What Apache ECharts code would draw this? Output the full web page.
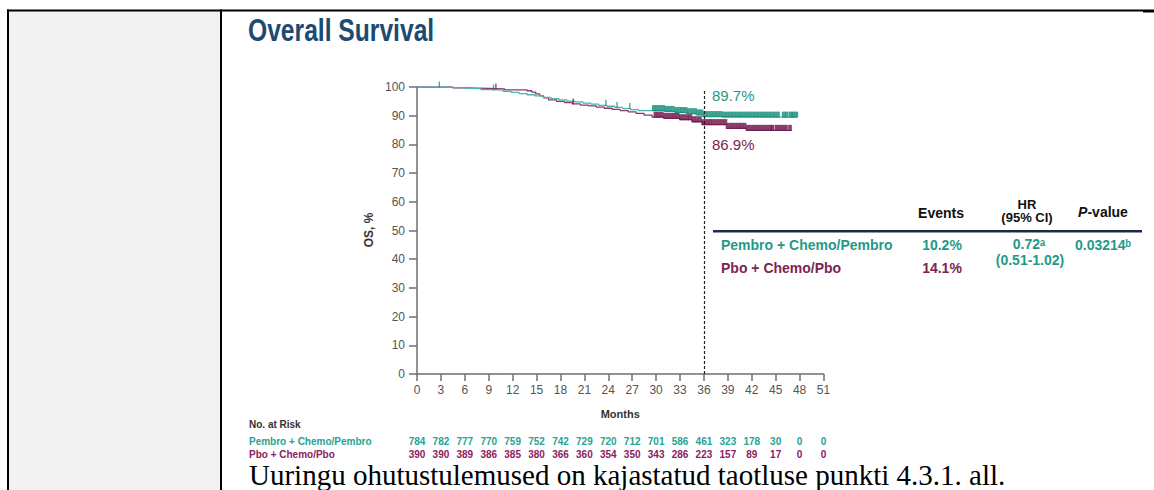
<!DOCTYPE html>
<html><head><meta charset="utf-8">
<script src="https://cdn.jsdelivr.net/npm/echarts@6/dist/echarts.min.js"></script>
<style>
html,body{margin:0;padding:0;background:#fff;}
#c{width:1154px;height:490px;}
</style></head><body><div id="c"></div>
<script>
// ---------------- data ----------------
const monthTicks = [0,3,6,9,12,15,18,21,24,27,30,33,36,39,42,45,48,51];
const riskPembro = [784,782,777,770,759,752,742,729,720,712,701,586,461,323,178,30,0,0];
const riskPbo    = [390,390,389,386,385,380,366,360,354,350,343,286,223,157,89,17,0,0];

// Kaplan-Meier steps [month, OS %]
const kmPembro = [[0,100],[3.3,99.8],[5.0,99.6],[6.5,99.4],[8.0,99.1],[9.5,98.9],[10.8,98.5],[11.8,98.1],[12.8,97.7],[13.8,97.3],[14.8,96.9],[15.8,96.4],[16.8,95.9],[17.8,95.5],[18.8,95.1],[19.8,94.8],[20.8,94.4],[21.8,94.0],[22.8,93.6],[23.8,93.3],[24.8,92.9],[25.8,92.5],[26.8,92.1],[27.8,91.8],[31.0,91.5],[32.5,91.1],[33.8,90.7],[35.0,90.3],[35.8,89.7],[38.5,89.5],[47.7,89.5]];
const kmPbo = [[0,100],[4.5,99.7],[6.0,99.5],[9.0,99.3],[11.0,99.0],[13.8,98.7],[14.4,98.2],[14.9,97.6],[15.4,96.9],[15.9,96.2],[16.5,95.5],[17.5,95.0],[18.5,94.6],[19.5,94.1],[20.5,93.7],[21.5,93.4],[22.5,93.0],[23.5,92.6],[24.5,92.2],[25.5,91.8],[26.5,91.3],[27.5,90.8],[28.5,90.2],[29.5,89.5],[31.0,89.1],[33.0,88.6],[34.5,87.9],[35.8,86.9],[38.8,85.6],[41.3,84.9],[47.0,84.9]];

// censoring times (months)
const censorPembro = [2.8,9.6,23.7,25.1,26.7,
  29.7,30.1,30.5,30.9,31.3,31.7,32.1,32.5,32.9,33.3,33.7,34.1,34.5,34.9,35.3,35.7,36.1,36.5,36.9,37.3,37.7,38.1,38.5,38.9,39.3,39.7,40.1,40.5,40.9,41.3,41.7,42.1,42.5,42.9,43.3,43.7,44.1,44.5,44.9,45.3,46.0,46.4,46.9,47.2,47.6];
const censorPbo = [9.9,19.6,
  29.9,30.3,30.7,31.1,31.5,31.9,32.3,32.7,33.1,33.5,33.9,34.3,34.7,35.1,35.5,35.9,36.3,36.7,37.1,37.5,37.9,38.3,38.7,39.1,39.5,39.9,40.3,40.7,41.1,41.5,41.9,42.3,42.7,43.1,43.5,43.9,44.3,44.6,45.1,45.5,45.9,46.3,46.8];

const landmarkMonth = 36;
const landmarkPembro = 89.7;
const landmarkPbo = 86.9;

const armNames = ['Pembro + Chemo/Pembro','Pbo + Chemo/Pbo'];
const events = ['10.2%','14.1%'];
const hrText = '0.72\u1d43';
const ciText = '(0.51-1.02)';
const pText = '0.03214\u1d47';

// ---------------- style ----------------
const TEAL_LINE = '#4bb5aa', TEAL_BAND = '#128c76', TEAL_TXT = '#1f9a88';
const PUR_LINE = '#8a3a6b', PUR_BAND = '#6b1247', PUR_TXT = '#7d2450';
const SANS = "'Liberation Sans', Arial, Helvetica, sans-serif";
const NARROW = "'Liberation Sans Narrow','Arial Narrow','Liberation Sans',Arial,sans-serif";

function stepValue(km, t){ let v = km[0][1]; for (const p of km){ if (p[0] <= t) v = p[1]; } return v; }
const censorPembroPts = censorPembro.map(t => [t, stepValue(kmPembro, t)]);
const censorPboPts = censorPbo.map(t => [t, stepValue(kmPbo, t)]);
const censorSize = (v) => v[0] < 29 ? [1.3, 6] : [3.6, 6];

const chart = echarts.init(document.getElementById('c'), null, {renderer:'svg'});
const axisCol = '#6f6f6f';
function riskAxis(arr, offset, color){
  return {type:'value', gridIndex:0, position:'bottom', offset:offset, min:0, max:51, interval:3,
    axisLine:{show:false}, axisTick:{show:false}, splitLine:{show:false},
    axisLabel:{margin:2, fontSize:10, fontWeight:'bold', fontFamily:NARROW, color:color,
      formatter:(v)=> { const i = monthTicks.indexOf(v); return i>=0 ? String(arr[i]) : ''; }}};
}

const option = {
  animation:false,
  grid:{left:417, top:87, width:406.5, height:287, containLabel:false},
  xAxis:[
    {type:'value', min:0, max:51, interval:3,
     axisLine:{lineStyle:{color:axisCol, width:1.5}},
     axisTick:{length:7, lineStyle:{color:axisCol, width:1.5}},
     axisLabel:{margin:10, fontSize:12, color:'#555', fontFamily:SANS},
     splitLine:{show:false},
     name:'Months', nameLocation:'middle', nameGap:34,
     nameTextStyle:{fontSize:11, fontWeight:'bold', color:'#333', fontFamily:SANS}},
    riskAxis(riskPembro, 60, '#26a393'),
    riskAxis(riskPbo, 73, '#8c2161')
  ],
  yAxis:{type:'value', min:0, max:100, interval:10,
     axisLine:{show:true, lineStyle:{color:axisCol, width:1.5}},
     axisTick:{show:true, length:8, lineStyle:{color:axisCol, width:1.5}},
     axisLabel:{margin:12, fontSize:12, color:'#555', fontFamily:SANS},
     splitLine:{show:false}},
  series:[
    {type:'line', data:kmPbo, step:'end', symbol:'none', lineStyle:{color:PUR_LINE, width:1.3}, z:2},
    {type:'line', data:kmPembro, step:'end', symbol:'none', lineStyle:{color:TEAL_LINE, width:1.3}, z:2,
     markLine:{silent:true, symbol:'none', label:{show:false},
       lineStyle:{color:'#222', type:[3,2], width:1.2},
       data:[[{coord:[landmarkMonth,0]},{coord:[landmarkMonth,99]}]]}},
    {type:'scatter', data:censorPboPts, symbol:'rect', symbolSize:censorSize, symbolOffset:[0,-2.5],
     itemStyle:{color:PUR_BAND}, z:3},
    {type:'scatter', data:censorPembroPts, symbol:'rect', symbolSize:censorSize, symbolOffset:[0,-2.5],
     itemStyle:{color:TEAL_BAND}, z:3}
  ]
};
chart.setOption(option);

const p1 = chart.convertToPixel({gridIndex:0}, [landmarkMonth, landmarkPembro]);
const p2 = chart.convertToPixel({gridIndex:0}, [landmarkMonth, landmarkPbo]);

function txt(x, y, text, font, fill, align, extra){
  return Object.assign({type:'text', x:x, y:y, silent:true,
    style:{text:text, font:font, fill:fill, align:align||'left', verticalAlign:'middle',
      textAlign:align||'left', textVerticalAlign:'middle'}}, extra||{});
}
const tb = "bold 14px " + SANS;
const graphics = [
  {type:'rect', shape:{x:9, y:11, width:211, height:479}, style:{fill:'#f2f2f2'}, silent:true},
  {type:'rect', shape:{x:7, y:9.5, width:1136, height:2}, style:{fill:'#000'}, silent:true},
  {type:'rect', shape:{x:1143, y:9.5, width:11, height:3}, style:{fill:'#000'}, silent:true},
  {type:'rect', shape:{x:7, y:9.5, width:2, height:481}, style:{fill:'#000'}, silent:true},
  {type:'rect', shape:{x:220, y:9.5, width:2, height:481}, style:{fill:'#000'}, silent:true},
  txt(248, 30, 'Overall Survival', "bold 32px " + SANS, '#1c4a71', 'left', {scaleX:0.77}),
  txt(369, 230, 'OS, %', "bold 12px " + SANS, '#333', 'center', {rotation:Math.PI/2}),
  txt(p1[0]+8, p1[1]-21, landmarkPembro.toFixed(1)+'%', "15px " + SANS, TEAL_TXT, 'left'),
  txt(p2[0]+8, p2[1]+20, landmarkPbo.toFixed(1)+'%', "15px " + SANS, PUR_TXT, 'left'),
  // results table
  txt(941, 213, 'Events', tb, '#111', 'center'),
  txt(1027, 204, 'HR', "bold 13px " + SANS, '#111', 'center'),
  txt(1027, 217, '(95% CI)', "bold 13px " + SANS, '#111', 'center'),
  {type:'text', x:1103, y:212, silent:true, style:{text:'{i|P}-value', font:tb, fill:'#111', align:'center', verticalAlign:'middle',
    rich:{i:{fontStyle:'italic', fontWeight:'bold', fontSize:14, fontFamily:SANS, fill:'#111'}}}},
  {type:'rect', shape:{x:713, y:230, width:429, height:2.5}, style:{fill:'#1f2a44'}, silent:true},
  txt(721, 245, armNames[0], tb, TEAL_TXT, 'left'),
  txt(721, 268, armNames[1], tb, PUR_TXT, 'left'),
  txt(942, 245, events[0], tb, TEAL_TXT, 'center'),
  txt(942, 268, events[1], tb, PUR_TXT, 'center'),
  txt(1029, 244, hrText, tb, TEAL_TXT, 'center'),
  txt(1030, 259.5, ciText, tb, TEAL_TXT, 'center'),
  txt(1103, 245, pText, tb, TEAL_TXT, 'center'),
  // number at risk labels
  txt(249, 424, 'No. at Risk', "bold 10px " + SANS, '#333', 'left'),
  txt(249, 441, armNames[0], "bold 10px " + NARROW, '#26a393', 'left'),
  txt(249, 454, armNames[1], "bold 10px " + NARROW, '#8c2161', 'left'),
  txt(249, 475, 'Uuringu ohutustulemused on kajastatud taotluse punkti 4.3.1. all.', "29px 'Liberation Serif','Times New Roman',serif", '#000', 'left')
];
chart.setOption({graphic:graphics});
</script></body></html>
